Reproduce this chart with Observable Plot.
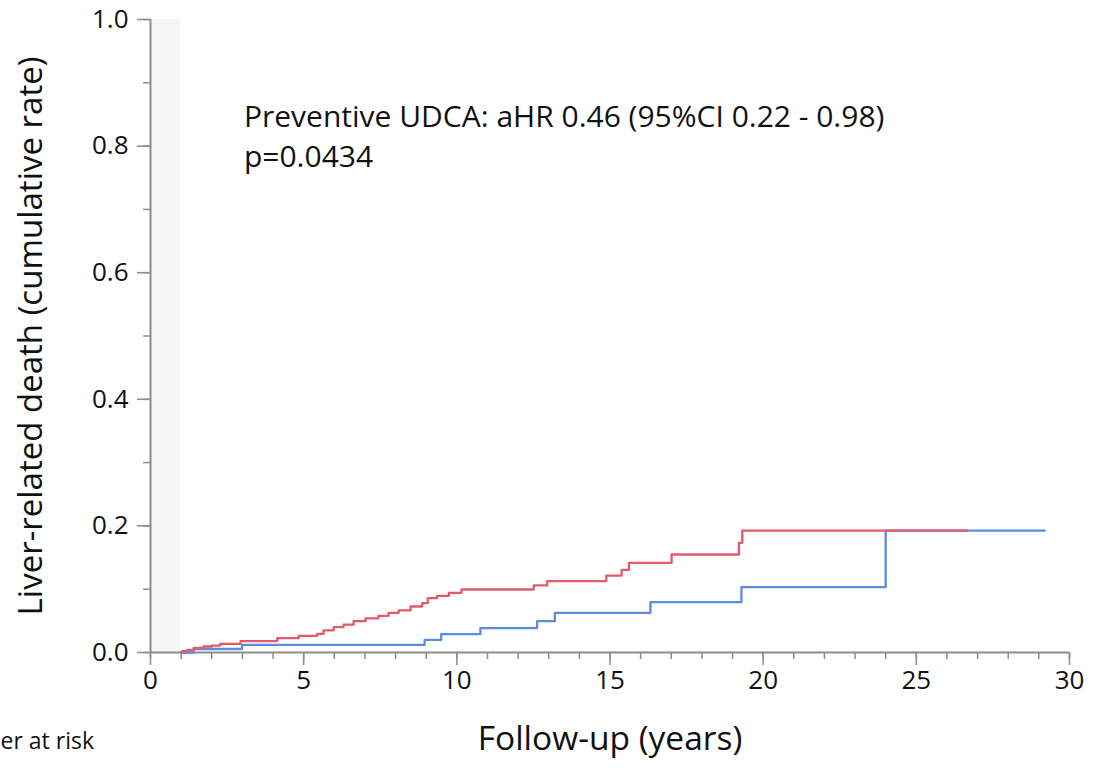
<!DOCTYPE html>
<html>
<head>
<meta charset="utf-8">
<script src="https://cdn.jsdelivr.net/npm/d3@7"></script>
<script src="https://cdn.jsdelivr.net/npm/@observablehq/plot@0.6"></script>
<style>
  html, body { margin: 0; padding: 0; background: #fff; }
  #chart svg { display: block; overflow: visible; }
</style>
</head>
<body>
<div id="chart"></div>
<script>
// Kaplan-Meier style cumulative incidence (years, cumulative rate)
const redTimes = [1, 1.03, 1.2, 1.41, 1.73, 2.0, 2.28, 2.94, 4.14, 4.84, 5.44, 5.65, 5.98, 6.3, 6.63, 7.02, 7.44, 7.77, 8.1, 8.49, 8.87, 9.05, 9.36, 9.74, 10.15, 12.51, 12.95, 14.88, 15.38, 15.62, 17.01, 19.21, 19.32, 26.66];
const redValues = [0, 0.002, 0.004, 0.0074, 0.0095, 0.011, 0.0137, 0.018, 0.0226, 0.0264, 0.0295, 0.0348, 0.04, 0.044, 0.0495, 0.054, 0.058, 0.0627, 0.0664, 0.0727, 0.078, 0.086, 0.0895, 0.0943, 0.0995, 0.106, 0.1127, 0.1216, 0.1306, 0.1417, 0.1548, 0.1733, 0.1925, 0.1925];
const blueTimes = [1, 1.41, 2.99, 8.95, 9.49, 10.77, 12.62, 13.2, 16.32, 19.29, 24.0, 29.19];
const blueValues = [0, 0.0055, 0.012, 0.020, 0.029, 0.0384, 0.0495, 0.0627, 0.0795, 0.1032, 0.1925, 0.1925];

const landmark = [{x1: 0, x2: 1}];
const xMajorTicks = [0, 5, 10, 15, 20, 25, 30];
const xMinorTicks = d3.range(0, 31, 1);
const yMajorTicks = [0, 0.2, 0.4, 0.6, 0.8, 1.0];
const yMinorTicks = d3.range(0, 11).map(i => i / 10);
const annotationLines = ["Preventive UDCA: aHR 0.46 (95%CI 0.22 - 0.98)", "p=0.0434"];
const annotationY = [0.845, 0.782];
const xLabel = "Follow-up (years)";
const yLabel = "Liver-related death (cumulative rate)";
const riskLabel = "er at risk";

const red = redTimes.map((t, i) => ({t, v: redValues[i]}));
const blue = blueTimes.map((t, i) => ({t, v: blueValues[i]}));

const axisColor = "#8c8c8c";
const font = "'Open Sans', sans-serif";

const plot = Plot.plot({
  width: 1095,
  height: 768,
  marginLeft: 150,
  marginRight: 26,
  marginTop: 19,
  marginBottom: 116,
  style: {fontFamily: font, color: "#111", background: "#fff"},
  x: {domain: [0, 30]},
  y: {domain: [0, 1]},
  marks: [
    Plot.rectY(landmark, {x1: "x1", x2: "x2", y1: 0, y2: 1, fill: "#f5f5f5"}),
    // minor ticks
    Plot.axisX({ticks: xMinorTicks, tickSize: 7, text: null, stroke: axisColor, strokeWidth: 1.5, label: null}),
    Plot.axisY({ticks: yMinorTicks, tickSize: 7, text: null, stroke: axisColor, strokeWidth: 1.5, label: null}),
    // major ticks
    Plot.axisX({ticks: xMajorTicks, tickSize: 13, tickPadding: 5, fontSize: 26, stroke: axisColor, strokeWidth: 1.5, fill: "#111", label: null, tickFormat: d => d3.format("d")(d)}),
    Plot.axisY({ticks: yMajorTicks, tickSize: 13, tickPadding: 9, fontSize: 26, stroke: axisColor, strokeWidth: 1.5, fill: "#111", label: null, tickFormat: d3.format(".1f")}),
    Plot.ruleY([0], {stroke: axisColor, strokeWidth: 2}),
    Plot.ruleX([0], {stroke: axisColor, strokeWidth: 2}),
    Plot.lineY(blue, {x: "t", y: "v", curve: "step-after", stroke: "#5a8de0", strokeWidth: 2.3}),
    Plot.lineY(red, {x: "t", y: "v", curve: "step-after", stroke: "#e45a6c", strokeWidth: 2.3}),
    Plot.text(annotationLines, {x: () => 3.05, y: (d, i) => annotationY[i], text: d => d, textAnchor: "start", fontSize: 30, fill: "#111"}),
    Plot.text([xLabel], {frameAnchor: "bottom", dy: 97, fontSize: 33.5, fill: "#111"}),
    Plot.text([yLabel], {frameAnchor: "left", rotate: -90, textAnchor: "middle", dx: -119, fontSize: 33, fill: "#111"}),
    Plot.text([riskLabel], {frameAnchor: "bottom-left", dx: -150, dy: 96, textAnchor: "start", fontSize: 23, fill: "#111"})
  ]
});
document.getElementById("chart").appendChild(plot);
</script>
</body>
</html>
